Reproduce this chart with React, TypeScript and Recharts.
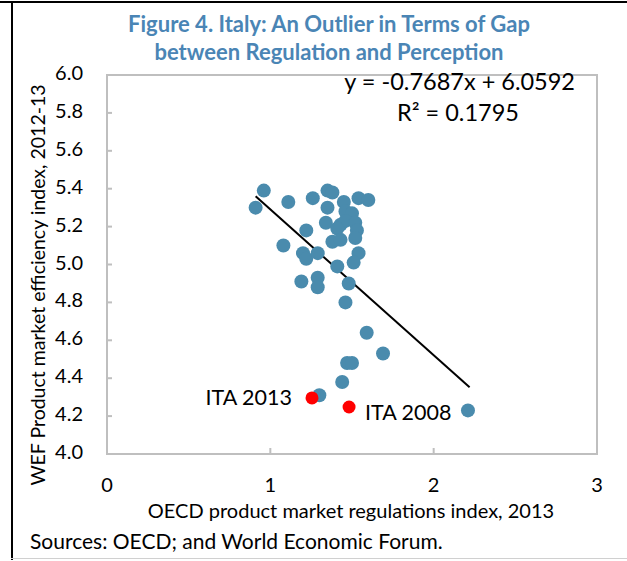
import {
  LabelList,
  ReferenceArea,
  ReferenceLine,
  Scatter,
  ScatterChart,
  XAxis,
  YAxis,
} from "recharts";

// OECD PMR index (x) vs WEF product market efficiency (y)
const COUNTRIES_X = [
  0.96, 0.91, 1.11, 1.26, 1.35, 1.38, 1.35, 1.45, 1.54, 1.6, 1.46, 1.5, 1.34,
  1.43, 1.46, 1.52, 1.53, 1.41, 1.22, 1.38, 1.43, 1.52, 1.08, 1.2, 1.22, 1.29,
  1.54, 1.51, 1.41, 1.19, 1.29, 1.29, 1.48, 1.46, 1.59, 1.69, 1.47, 1.5, 1.44,
  1.3, 2.21,
];
const COUNTRIES_Y = [
  5.39, 5.3, 5.33, 5.35, 5.39, 5.38, 5.3, 5.33, 5.35, 5.34, 5.28, 5.27, 5.22,
  5.21, 5.23, 5.22, 5.18, 5.19, 5.18, 5.12, 5.13, 5.14, 5.1, 5.06, 5.03, 5.06,
  5.06, 5.01, 4.99, 4.91, 4.93, 4.88, 4.9, 4.8, 4.64, 4.53, 4.48, 4.48, 4.38,
  4.31, 4.23,
];
const ITALY_LABELS = ["ITA 2013", "ITA 2008"];
const ITALY_X = [1.255, 1.482];
const ITALY_Y = [4.296, 4.248];

const SLOPE = -0.7687;
const INTERCEPT = 6.0592;
const R2 = 0.1795;
const TREND_X = [0.91, 2.22];

const X_TICKS = [0, 1, 2, 3];
const Y_TICKS = [4.0, 4.2, 4.4, 4.6, 4.8, 5.0, 5.2, 5.4, 5.6, 5.8, 6.0];

const countries = COUNTRIES_X.map((x, i) => ({ x, y: COUNTRIES_Y[i] }));
const italy = ITALY_X.map((x, i) => ({ x, y: ITALY_Y[i], name: ITALY_LABELS[i] }));
const trend = TREND_X.map((x) => ({ x, y: INTERCEPT + SLOPE * x }));

const FONT = "Lato, 'Open Sans', sans-serif";
const BLUE = "#4a8bad";
const TITLE = "#4a85b5";
const BORDER = "#bfbfbf";

// tick props come offset by tickSize + tickMargin from the plot edge
const OFF = 8;

function XTick(props: any) {
  const { x, y, payload } = props;
  const edge = y - OFF;
  return (
    <g>
      <line x1={x} x2={x} y1={edge} y2={edge - 6} stroke={BORDER} strokeWidth={2} />
      <text x={x} y={edge + 33} textAnchor="middle" dominantBaseline="middle" fontSize={20} fill="#000" fontFamily={FONT}>
        {payload.value}
      </text>
    </g>
  );
}

function YTick(props: any) {
  const { x, y, payload } = props;
  const edge = x + OFF;
  return (
    <g>
      <line x1={edge} x2={edge + 5} y1={y} y2={y} stroke={BORDER} strokeWidth={2} />
      <text x={edge - 24} y={y} textAnchor="end" dominantBaseline="middle" fontSize={20} fill="#000" fontFamily={FONT}>
        {Number(payload.value).toFixed(1)}
      </text>
    </g>
  );
}

function ItalyLabel(props: any) {
  const { x, y, width, height, index, value } = props;
  const cx = x + width / 2;
  const cy = y + height / 2;
  const left = index === 0;
  return (
    <text
      x={left ? cx - 20 : cx + 16}
      y={left ? cy + 2 : cy + 8}
      textAnchor={left ? "end" : "start"}
      dominantBaseline="middle"
      fontSize={21.5}
      fill="#000"
      fontFamily={FONT}
    >
      {value}
    </text>
  );
}

export default function App() {
  return (
    <div style={{ position: "fixed", left: 0, top: 0, width: 627, height: 561, background: "#fff", fontFamily: FONT }}>
      <div style={{ position: "absolute", left: 0, top: 1, width: 627, height: 2, background: "#000" }} />
      <div style={{ position: "absolute", left: 11, top: 1, width: 2, height: 559, background: "#000" }} />
      <div style={{ position: "absolute", left: 11, top: 558, width: 616, height: 1, background: "#d0d0d0" }} />

      <div
        style={{
          position: "absolute",
          left: 0,
          top: 10,
          width: 658,
          textAlign: "center",
          color: TITLE,
          fontWeight: 700,
          fontSize: 22,
          lineHeight: "28px",
        }}
      >
        Figure 4. Italy: An Outlier in Terms of Gap
        <br />
        between Regulation and Perception
      </div>

      <ScatterChart width={627} height={561} margin={{ top: 75, right: 30, bottom: 77, left: 47 }} style={{ position: "absolute", left: 0, top: 0 }}>
        <XAxis
          type="number"
          dataKey="x"
          domain={[0, 3]}
          ticks={X_TICKS}
          axisLine={false}
          tickLine={false}
          tick={<XTick />}
          height={30}
          interval={0}
        />
        <YAxis
          type="number"
          dataKey="y"
          domain={[4, 6]}
          ticks={Y_TICKS}
          axisLine={false}
          tickLine={false}
          tick={<YTick />}
          width={60}
          interval={0}
        />
        <ReferenceArea x1={0} x2={3} y1={4} y2={6} fill="none" stroke={BORDER} strokeWidth={2} fillOpacity={0} />
        <Scatter
          data={countries}
          fill={BLUE}
          isAnimationActive={false}
          shape={(p: any) => <circle cx={p.cx} cy={p.cy} r={7} fill={BLUE} />}
        />
        <Scatter
          data={italy}
          fill="#ff0000"
          isAnimationActive={false}
          shape={(p: any) => <ellipse cx={p.cx} cy={p.cy} rx={6.5} ry={6.5} fill="#ff0000" />}
        >
          <LabelList dataKey="name" content={<ItalyLabel />} />
        </Scatter>
        <ReferenceLine
          segment={[
            { x: trend[0].x, y: trend[0].y },
            { x: trend[1].x, y: trend[1].y },
          ]}
          stroke="#000"
          strokeWidth={2}
        />
      </ScatterChart>

      <div style={{ position: "absolute", right: 52, top: 67, fontSize: 23.5, color: "#000", whiteSpace: "nowrap" }}>
        y = {SLOPE}x + {INTERCEPT}
      </div>
      <div style={{ position: "absolute", left: 397, top: 98, fontSize: 23.5, color: "#000", whiteSpace: "nowrap" }}>
        R² = {R2}
      </div>

      <div
        style={{
          position: "absolute",
          left: 37,
          top: 285,
          transform: "translate(-50%, -50%) rotate(-90deg)",
          fontSize: 19.5,
          whiteSpace: "nowrap",
          color: "#000",
        }}
      >
        WEF Product market efficiency index, 2012-13
      </div>
      <div
        style={{
          position: "absolute",
          left: 351,
          top: 510,
          transform: "translate(-50%, -50%)",
          fontSize: 20,
          whiteSpace: "nowrap",
          color: "#000",
        }}
      >
        OECD product market regulations index, 2013
      </div>
      <div style={{ position: "absolute", left: 30, top: 528, fontSize: 21, whiteSpace: "nowrap", color: "#000" }}>
        Sources: OECD; and World Economic Forum.
      </div>
    </div>
  );
}
